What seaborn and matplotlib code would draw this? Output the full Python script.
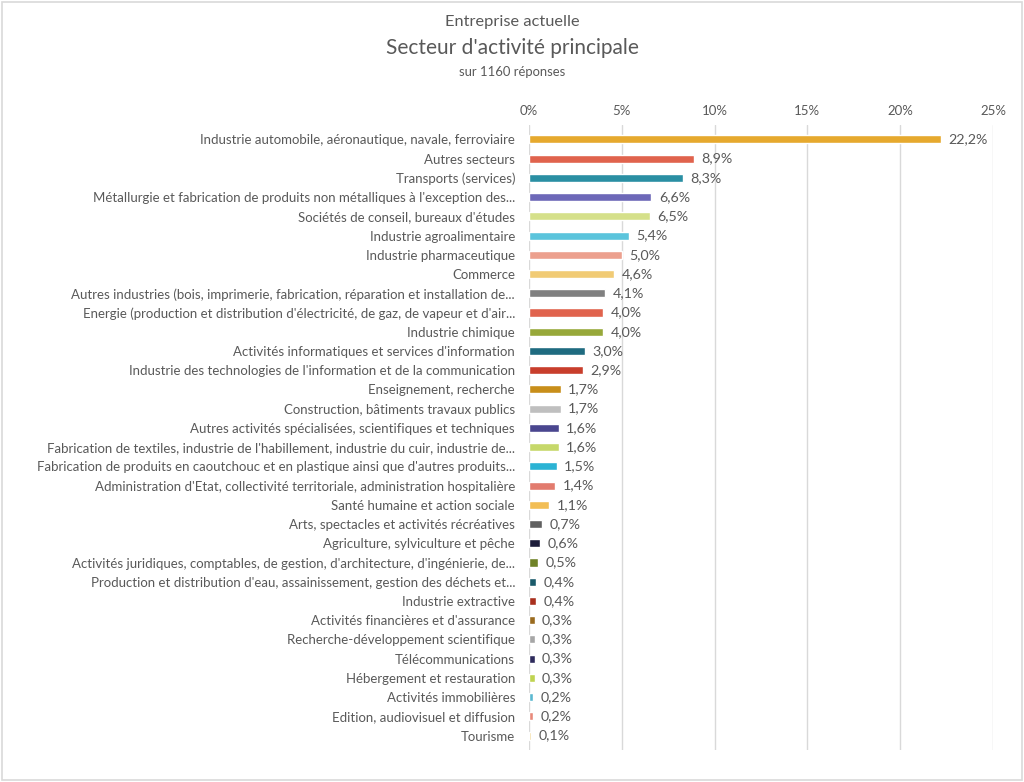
import matplotlib
matplotlib.use("Agg")
import matplotlib.pyplot as plt
import seaborn as sns
import pandas as pd
from matplotlib.patches import Rectangle

secteurs = [
    "Industrie automobile, aéronautique, navale, ferroviaire",
    "Autres secteurs",
    "Transports (services)",
    "Métallurgie et fabrication de produits non métalliques à l'exception des...",
    "Sociétés de conseil, bureaux d'études",
    "Industrie agroalimentaire",
    "Industrie pharmaceutique",
    "Commerce",
    "Autres industries (bois, imprimerie, fabrication, réparation et installation de...",
    "Energie (production et distribution d'électricité, de gaz, de vapeur et d'air...",
    "Industrie chimique",
    "Activités informatiques et services d'information",
    "Industrie des technologies de l'information et de la communication",
    "Enseignement, recherche",
    "Construction, bâtiments travaux publics",
    "Autres activités spécialisées, scientifiques et techniques",
    "Fabrication de textiles, industrie de l'habillement, industrie du cuir, industrie de...",
    "Fabrication de produits en caoutchouc et en plastique ainsi que d'autres produits...",
    "Administration d'Etat, collectivité territoriale, administration hospitalière",
    "Santé humaine et action sociale",
    "Arts, spectacles et activités récréatives",
    "Agriculture, sylviculture et pêche",
    "Activités juridiques, comptables, de gestion, d'architecture, d'ingénierie, de...",
    "Production et distribution d'eau, assainissement, gestion des déchets et...",
    "Industrie extractive",
    "Activités financières et d'assurance",
    "Recherche-développement scientifique",
    "Télécommunications",
    "Hébergement et restauration",
    "Activités immobilières",
    "Edition, audiovisuel et diffusion",
    "Tourisme",
]
pourcentages = [22.2, 8.9, 8.3, 6.6, 6.5, 5.4, 5.0, 4.6, 4.1, 4.0, 4.0, 3.0, 2.9, 1.7, 1.7,
                1.6, 1.6, 1.5, 1.4, 1.1, 0.7, 0.6, 0.5, 0.4, 0.4, 0.3, 0.3, 0.3, 0.3, 0.2, 0.2, 0.1]
couleurs = ["#E6A92E", "#E0634D", "#2A8FA3", "#6D68B8", "#D5E08A", "#5BC4DC", "#ECA08E", "#F1CB75",
            "#808080", "#E0634D", "#97A83A", "#1F6B80", "#C83E2C", "#C88E1A", "#BFBFBF", "#4A468F",
            "#C6D86A", "#2BB3D4", "#E27B6E", "#F2BE55", "#606060", "#1C1C3A", "#6F8227", "#1A5A6A",
            "#A9301E", "#9A6B1F", "#A6A6A6", "#2E2B5C", "#BFD350", "#5AB8D0", "#E8897A", "#F3DA9A"]
ticks = [0, 5, 10, 15, 20, 25]

gris = "#595959"
sns.set_theme(style="white")
plt.rcParams["font.family"] = ["Lato", "DejaVu Sans"]

df = pd.DataFrame({"secteur": secteurs, "pct": pourcentages})

fig = plt.figure(figsize=(10.24, 7.82), dpi=100)
ax = fig.add_axes([529 / 1024, 1 - 750 / 782, 464 / 1024, 625 / 782])
sns.barplot(data=df, x="pct", y="secteur", hue="secteur", palette=couleurs,
            legend=False, width=0.42, saturation=1, ax=ax)

ax.set_xlim(0, 25)
ax.set_ylim(31.75, -0.75)
ax.set_xticks(ticks)
ax.set_xticklabels([f"{t}%" for t in ticks])
ax.xaxis.tick_top()
ax.tick_params(axis="x", length=0, pad=6, labelsize=9.5, labelcolor=gris)
ax.tick_params(axis="y", length=0, pad=10, labelsize=9.5, labelcolor=gris)
ax.set_xlabel("")
ax.set_ylabel("")
ax.grid(axis="x", color="#D9D9D9", linewidth=1)
ax.set_axisbelow(True)
for s in ax.spines.values():
    s.set_visible(False)

for i, v in enumerate(pourcentages):
    ax.text(v + 0.4, i, f"{v:.1f}%".replace(".", ","), va="center", ha="left",
            fontsize=10.3, color=gris)

fig.text(0.5, 1 - 22 / 782, "Entreprise actuelle", ha="center", va="center", fontsize=11.8, color=gris)
fig.text(0.5, 1 - 48 / 782, "Secteur d'activité principale", ha="center", va="center", fontsize=15, color=gris)
fig.text(0.5, 1 - 72 / 782, "sur 1160 réponses", ha="center", va="center", fontsize=9.4, color=gris)

fig.patches.append(Rectangle((0.002, 0.002), 0.996, 0.996, transform=fig.transFigure,
                             fill=False, edgecolor="#D9D9D9", linewidth=1.2))

fig.savefig("out.png", dpi=100)
